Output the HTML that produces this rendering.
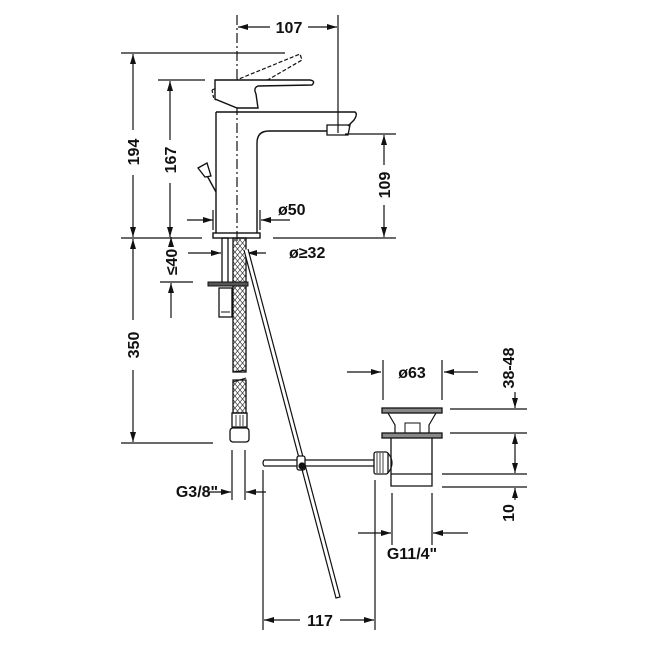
<!DOCTYPE html>
<html><head><meta charset="utf-8"><style>
html,body{margin:0;padding:0;background:#fff;}
svg{display:block;}
text{font-family:"Liberation Sans",sans-serif;font-weight:bold;font-size:16px;fill:#111;}
</style></head><body>
<svg width="650" height="650" viewBox="0 0 650 650" xmlns="http://www.w3.org/2000/svg">
<defs>
<marker id="a" viewBox="0 0 10 6" refX="10" refY="3" markerWidth="10" markerHeight="6" markerUnits="userSpaceOnUse" orient="auto">
<path d="M0,0 L10,3 L0,6 z" fill="#111"/></marker>
<pattern id="br" width="5" height="6" patternUnits="userSpaceOnUse">
<path d="M0,0 L5,6 M5,0 L0,6" stroke="#333" stroke-width="0.7"/></pattern>
</defs>
<g stroke="#111" stroke-width="1.2" fill="none">
<line x1="237" y1="15" x2="237" y2="245" stroke-dasharray="10,3,2,3"/>
<line x1="338" y1="15" x2="338" y2="133"/>
<line x1="270" y1="27" x2="238" y2="27" marker-end="url(#a)"/>
<line x1="308" y1="27" x2="337" y2="27" marker-end="url(#a)"/>
<line x1="121" y1="53" x2="285" y2="53"/>
<line x1="133" y1="130" x2="133" y2="54" marker-end="url(#a)"/>
<line x1="133" y1="175" x2="133" y2="237" marker-end="url(#a)"/>
<line x1="158" y1="80" x2="205" y2="80"/>
<line x1="170" y1="140" x2="170" y2="81" marker-end="url(#a)"/>
<line x1="170" y1="183" x2="170" y2="237" marker-end="url(#a)"/>
<line x1="121" y1="238" x2="202" y2="238"/>
<line x1="273" y1="238" x2="396" y2="238"/>
<line x1="345" y1="134" x2="396" y2="134"/>
<line x1="384" y1="165" x2="384" y2="135" marker-end="url(#a)"/>
<line x1="384" y1="205" x2="384" y2="237" marker-end="url(#a)"/>
<line x1="187" y1="220" x2="213" y2="220" marker-end="url(#a)"/>
<line x1="290" y1="220" x2="261" y2="220" marker-end="url(#a)"/>
<line x1="213" y1="210" x2="213" y2="230"/>
<line x1="260" y1="210" x2="260" y2="230"/>
<path d="M212,90 L300,54 L302,60 L240,96 L215,100" stroke-dasharray="4,2"/>
<path d="M212,90 L214,100 M228,104 L250,108" stroke-dasharray="3,2"/>
<path d="M215,80 L310,80 Q316,81 312,85 L258,86 Q253,88 256,94 L258,108 L237,108 L215,99 Z" stroke-width="1.4" fill="#fff"/>
<path d="M216,112 L355,112 Q358,114 354,120 L348,126 M327,131 L269,131 Q257,131 257,143 L257,233 M216,112 L216,233" stroke-width="1.4"/>
<path d="M327,125 L350,125 L348,135 L327,135 Z" stroke-width="1.3"/>
<rect x="213" y="233" width="47" height="5" stroke-width="1.4"/>
<path d="M216,192 L205,172" stroke-width="1.4"/>
<path d="M198,168 L207,163 L211,176 L205,177 Z" stroke-width="1.3" fill="#fff"/>
<rect x="222" y="238" width="6" height="46" stroke-width="1.3"/>
<rect x="233" y="238" width="13" height="134" fill="url(#br)" stroke-width="1.3"/>
<rect x="233" y="380" width="13" height="33" fill="url(#br)" stroke-width="1.3"/>
<path d="M233,372 L246,370 M233,382 L246,378" stroke-width="1"/>
<rect x="208" y="282" width="40" height="4" fill="#555" stroke-width="1"/>
<rect x="219" y="288" width="13" height="29" stroke-width="1.3"/>
<path d="M221,312 L230,312" stroke-width="1"/>
<rect x="232" y="413" width="15" height="14" stroke-width="1.3"/>
<path d="M236,415 V426 M240,415 V426 M243,415 V426" stroke-width="0.8"/>
<rect x="230" y="428" width="19" height="14" rx="3" stroke-width="1.3"/>
<line x1="188" y1="253" x2="221" y2="253" marker-end="url(#a)"/>
<line x1="266" y1="253" x2="247" y2="253" marker-end="url(#a)"/>
<line x1="160" y1="282" x2="193" y2="282"/>
<line x1="171" y1="245" x2="171" y2="237" marker-end="url(#a)"/>
<line x1="171" y1="318" x2="171" y2="283" marker-end="url(#a)"/>
<line x1="121" y1="443" x2="213" y2="443"/>
<line x1="133" y1="320" x2="133" y2="239" marker-end="url(#a)"/>
<line x1="133" y1="370" x2="133" y2="442" marker-end="url(#a)"/>
<line x1="232" y1="450" x2="232" y2="500"/>
<line x1="245" y1="450" x2="245" y2="500"/>
<line x1="208" y1="492" x2="231" y2="492" marker-end="url(#a)"/>
<line x1="266" y1="492" x2="246" y2="492" marker-end="url(#a)"/>
<path d="M244,250 L336,598 L340,597 L248,249" stroke-width="1.2" fill="#fff"/>
<path d="M264,460 L375,460 M264,466 L375,466 M264,460 Q262,463 264,466" stroke-width="1.2"/>
<rect x="297" y="456" width="8" height="14" rx="2" stroke-width="1.3" fill="#fff"/>
<circle cx="302" cy="466" r="3" fill="#111"/>
<rect x="374" y="452" width="14" height="22" rx="2" stroke-width="1.3" fill="#fff"/>
<path d="M377,453 V473 M380,453 V473 M383,453 V473" stroke-width="0.8"/>
<path d="M388,453 Q396,463 388,473" stroke-width="1.2"/>
<rect x="382" y="408" width="60" height="5" fill="#888" stroke-width="1.3"/>
<path d="M388,413 L395,425 L395,433 M436,413 L429,425 L429,433" stroke-width="1.2"/>
<path d="M405,433 L405,423 L420,423 L420,433" stroke-width="1"/>
<rect x="382" y="433" width="60" height="5" fill="#888" stroke-width="1.3"/>
<path d="M391,438 L391,486 L432,486 L432,438 M391,474 L432,474" stroke-width="1.3"/>
<line x1="383" y1="360" x2="383" y2="400"/>
<line x1="442" y1="360" x2="442" y2="400"/>
<line x1="347" y1="372" x2="381" y2="372" marker-end="url(#a)"/>
<line x1="478" y1="372" x2="444" y2="372" marker-end="url(#a)"/>
<line x1="450" y1="409" x2="527" y2="409"/>
<line x1="450" y1="433" x2="527" y2="433"/>
<line x1="442" y1="474" x2="527" y2="474"/>
<line x1="442" y1="487" x2="527" y2="487"/>
<line x1="515" y1="392" x2="515" y2="408" marker-end="url(#a)"/>
<line x1="515" y1="453" x2="515" y2="434" marker-end="url(#a)"/>
<line x1="515" y1="453" x2="515" y2="473" marker-end="url(#a)"/>
<line x1="515" y1="500" x2="515" y2="488" marker-end="url(#a)"/>
<line x1="392" y1="493" x2="392" y2="545"/>
<line x1="432" y1="493" x2="432" y2="545"/>
<line x1="358" y1="533" x2="391" y2="533" marker-end="url(#a)"/>
<line x1="468" y1="533" x2="433" y2="533" marker-end="url(#a)"/>
<line x1="263" y1="470" x2="263" y2="630"/>
<line x1="375" y1="480" x2="375" y2="630"/>
<line x1="300" y1="620" x2="264" y2="620" marker-end="url(#a)"/>
<line x1="340" y1="620" x2="374" y2="620" marker-end="url(#a)"/>
</g>
<g>
<text x="289" y="33" text-anchor="middle">107</text>
<text x="278" y="215">ø50</text>
<text x="289" y="258">ø≥32</text>
<text x="412" y="378" text-anchor="middle">ø63</text>
<text x="197" y="497" text-anchor="middle">G3/8"</text>
<text x="412" y="559" text-anchor="middle">G11/4"</text>
<text x="320" y="626" text-anchor="middle">117</text>
<text transform="translate(139,152) rotate(-90)" text-anchor="middle">194</text>
<text transform="translate(176,160) rotate(-90)" text-anchor="middle">167</text>
<text transform="translate(390,185) rotate(-90)" text-anchor="middle">109</text>
<text transform="translate(139,345) rotate(-90)" text-anchor="middle">350</text>
<text transform="translate(177,262) rotate(-90)" text-anchor="middle">≤40</text>
<text transform="translate(514,368) rotate(-90)" text-anchor="middle">38-48</text>
<text transform="translate(514,513) rotate(-90)" text-anchor="middle">10</text>
</g>
</svg>
</body></html>
